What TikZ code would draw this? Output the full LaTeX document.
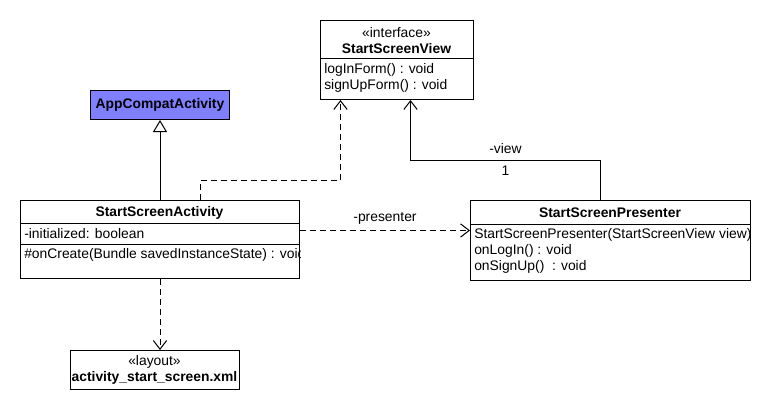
\documentclass[tikz,border=0pt]{standalone}
\usepackage{fontspec}
\setmainfont{Liberation Sans}
\usetikzlibrary{calc, arrows.meta, positioning}
\definecolor{appblue}{RGB}{128,128,255}

\begin{document}
\begin{tikzpicture}[
	% propiedades generales (1 unidad = 1 px, eje y hacia abajo)
	x = 0.75pt, y = -0.75pt,
	font = \fontsize{10.4}{12}\selectfont,
	% definición de estilos
	% 	a. cajas de clase
	umlbox/.style = {
		draw, line width = 0.75pt,
		fill = white,
		inner sep = 0pt,
		anchor = north west
	},
	% 	b. textos
	classname/.style = {
		font = \fontsize{10.4}{12}\selectfont\bfseries,
		inner sep = 0pt
	},
	stereo/.style = {inner sep = 0pt},
	member/.style = {anchor = west, inner sep = 0pt},
	% 	c. conectores
	generalization/.style = {
		line width = 0.75pt,
		arrows = -{Triangle[open, length = 9pt, width = 10.5pt]}
	},
	dependency/.style = {
		line width = 0.75pt,
		dash pattern = on 4.5pt off 3pt,
		arrows = -{Straight Barb[length = 6.5pt, width = 10pt]}
	},
	association/.style = {
		line width = 0.75pt,
		arrows = -{Straight Barb[length = 6.5pt, width = 10pt]}
	},
]

	% márgenes del dibujo
	\useasboundingbox (0,0) rectangle (770,410);

	% interfaz
	\node[umlbox, minimum width = 153*0.75pt, minimum height = 79*0.75pt]
		(iface) at (320,20) {};
	\draw[line width = 0.75pt] (320,59) -- (473,59);
	\node[stereo] (ifacest) at (396.5,33) {«interface»};
	\node[classname] (ifacename) at (396.5,49) {StartScreenView};
	\node[member] (ifacem1) at (324,70) {logInForm() : void};
	\node[member] (ifacem2) at (324,86) {signUpForm() : void};

	% superclase
	\node[umlbox, fill = appblue, minimum width = 139*0.75pt, minimum height = 29*0.75pt]
		(app) at (90,90) {};
	\node[classname] (appname) at (app.center) {AppCompatActivity};

	% actividad
	\node[umlbox, minimum width = 279*0.75pt, minimum height = 78*0.75pt]
		(act) at (20,200) {};
	\draw[line width = 0.75pt] (20,223) -- (299,223);
	\draw[line width = 0.75pt] (20,244) -- (299,244);
	\node[classname] (actname) at (159.5,213) {StartScreenActivity};
	\node[member] (actattr) at (24,234) {-initialized: boolean};
	\begin{scope}
		\clip (act.north west) rectangle (act.south east);
		\node[member] (actop) at (24,255)
			{\#onCreate(Bundle savedInstanceState) : void};
	\end{scope}

	% presentador
	\node[umlbox, minimum width = 280*0.75pt, minimum height = 80*0.75pt]
		(pres) at (470,200) {};
	\draw[line width = 0.75pt] (470,224) -- (750,224);
	\node[classname] (presname) at (610,213) {StartScreenPresenter};
	\begin{scope}
		\clip (pres.north west) rectangle (pres.south east);
		\node[member] (presm1) at (474,235)
			{StartScreenPresenter(StartScreenView view)};
	\end{scope}
	\node[member] (presm2) at (474,251) {onLogIn() : void};
	\node[member] (presm3) at (474,267) {onSignUp()\ \ : void};

	% layout
	\node[umlbox, minimum width = 169*0.75pt, minimum height = 39*0.75pt]
		(lay) at (70,350) {};
	\node[stereo] (layst) at (154.5,362) {«layout»};
	\node[classname] (layname) at (154.5,378) {activity\_start\_screen.xml};

	% herencia
	\draw[generalization] (act.north) -- (app.south);

	% realización de la interfaz
	\draw[dependency]
		($(act.north) + (40.5,0)$) -- ++(0,-20)
		-| ($(iface.south) + (-56.5,0)$);

	% asociación presentador -> vista
	\coordinate (v1) at ($(pres.north) + (-10,0)$);
	\coordinate (v2) at ($(iface.south) + (13.5,0)$);
	\draw[association]
		(v1) -- ++(0,-40) -| (v2)
			node[pos = 0.25, above = 1pt] (viewlbl) {-view}
			node[pos = 0.25, below = 1pt] (viewmult) {1};

	% actividad -> presentador
	\coordinate (p0) at ($(act.east) + (0,-9)$);
	\draw[dependency]
		(p0) -- node[above = 1pt] (preslbl) {-presenter} (p0 -| pres.west);

	% actividad -> layout
	\draw[dependency] (act.south) -- (act.south |- lay.north);

\end{tikzpicture}
\end{document}
